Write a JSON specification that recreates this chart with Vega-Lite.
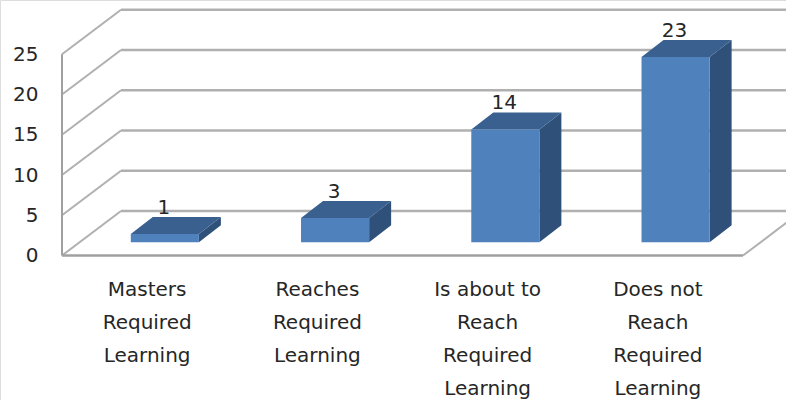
{
  "$schema": "https://vega.github.io/schema/vega-lite/v6.json",
  "width": 786,
  "height": 400,
  "padding": 0,
  "autosize": {"type": "none"},
  "background": "white",
  "datasets": {
    "levels": [{"level": 0}, {"level": 5}, {"level": 10}, {"level": 15}, {"level": 20}, {"level": 25}],
    "bars": [
      {"rank": 1, "category": "Masters\nRequired\nLearning", "value": 1},
      {"rank": 2, "category": "Reaches\nRequired\nLearning", "value": 3},
      {"rank": 3, "category": "Is about to\nReach\nRequired\nLearning", "value": 14},
      {"rank": 4, "category": "Does not\nReach\nRequired\nLearning", "value": 23}
    ]
  },
  "encoding": {
    "x": {"field": "px", "type": "quantitative", "stack": null, "axis": null,
          "scale": {"domain": [-0.3642, 4.2526], "nice": false, "zero": false}},
    "y": {"field": "py", "type": "quantitative", "stack": null,
          "scale": {"domain": [-17.95, 31.74], "nice": false, "zero": false},
          "axis": {"title": null, "values": [0, 5, 10, 15, 20, 25], "offset": -62, "ticks": false, "domain": false,
                   "grid": false, "labelPadding": 24, "labelFontSize": 20, "labelFont": "DejaVu Sans", "labelColor": "#262626"}}
  },
  "layer": [
    {
      "data": {"name": "levels"},
      "transform": [
        {"calculate": "0.3466", "as": "px"},
        {"calculate": "4.3466", "as": "px2"},
        {"calculate": "datum.level + 5.53", "as": "py"}
      ],
      "mark": {"type": "rule", "color": "#b0b0b0", "strokeWidth": 2.5},
      "encoding": {"x2": {"field": "px2"}}
    },
    {
      "data": {"name": "levels"},
      "transform": [
        {"calculate": "0", "as": "px"},
        {"calculate": "0.3466", "as": "px2"},
        {"calculate": "datum.level", "as": "py"},
        {"calculate": "datum.level + 5.53", "as": "py2"}
      ],
      "mark": {"type": "rule", "color": "#b0b0b0", "strokeWidth": 2},
      "encoding": {"x2": {"field": "px2"}, "y2": {"field": "py2"}}
    },
    {
      "data": {"name": "levels"},
      "transform": [
        {"filter": "datum.level === 25"},
        {"calculate": "0", "as": "px"},
        {"calculate": "0", "as": "py"},
        {"calculate": "datum.level", "as": "py2"}
      ],
      "mark": {"type": "rule", "color": "#a0a0a0", "strokeWidth": 2},
      "encoding": {"y2": {"field": "py2"}}
    },
    {
      "data": {"name": "levels"},
      "transform": [
        {"filter": "datum.level === 0"},
        {"calculate": "0", "as": "px"},
        {"calculate": "4", "as": "px2"},
        {"calculate": "0", "as": "py"}
      ],
      "mark": {"type": "rule", "color": "#a0a0a0", "strokeWidth": 2.5},
      "encoding": {"x2": {"field": "px2"}}
    },
    {
      "data": {"name": "levels"},
      "transform": [
        {"filter": "datum.level === 0"},
        {"calculate": "4", "as": "px"},
        {"calculate": "4.3466", "as": "px2"},
        {"calculate": "0", "as": "py"},
        {"calculate": "5.53", "as": "py2"}
      ],
      "mark": {"type": "rule", "color": "#b0b0b0", "strokeWidth": 2},
      "encoding": {"x2": {"field": "px2"}, "y2": {"field": "py2"}}
    },
    {
      "data": {"name": "bars"},
      "transform": [
        {"calculate": "[0, 1]", "as": "depth"},
        {"flatten": ["depth"]},
        {"calculate": "datum.rank - 0.196 + 0.1292 * datum.depth", "as": "px"},
        {"calculate": "1.66 + 2.11 * datum.depth + datum.value", "as": "py"},
        {"calculate": "1.66 + 2.11 * datum.depth", "as": "py2"}
      ],
      "mark": {"type": "area", "color": "#2f5078", "orient": "vertical", "opacity": 1},
      "encoding": {"y2": {"field": "py2"}, "detail": {"field": "rank"}}
    },
    {
      "data": {"name": "bars"},
      "transform": [
        {"calculate": "[0, 1]", "as": "depth"},
        {"flatten": ["depth"]},
        {"calculate": "datum.rank - 0.596 + 0.1292 * datum.depth", "as": "px"},
        {"calculate": "datum.rank - 0.196 + 0.1292 * datum.depth", "as": "px2"},
        {"calculate": "1.66 + 2.11 * datum.depth + datum.value", "as": "py"}
      ],
      "mark": {"type": "area", "color": "#3a6090", "orient": "horizontal", "opacity": 1},
      "encoding": {"x2": {"field": "px2"}, "detail": {"field": "rank"}}
    },
    {
      "data": {"name": "bars"},
      "transform": [
        {"calculate": "datum.rank - 0.596", "as": "px"},
        {"calculate": "datum.rank - 0.196", "as": "px2"},
        {"calculate": "1.66 + datum.value", "as": "py"},
        {"calculate": "1.66", "as": "py2"}
      ],
      "mark": {"type": "rect", "color": "#4f81bd"},
      "encoding": {"x2": {"field": "px2"}, "y2": {"field": "py2"}}
    },
    {
      "data": {"name": "bars"},
      "transform": [
        {"calculate": "datum.rank - 0.402", "as": "px"},
        {"calculate": "1.66 + datum.value", "as": "py"}
      ],
      "mark": {"type": "text", "dy": -26, "fontSize": 20, "font": "DejaVu Sans", "color": "#262626"},
      "encoding": {"text": {"field": "value", "type": "quantitative"}}
    },
    {
      "data": {"name": "bars"},
      "transform": [
        {"calculate": "datum.rank - 0.5", "as": "px"},
        {"calculate": "-3.05", "as": "py"}
      ],
      "mark": {"type": "text", "baseline": "top", "lineBreak": "\n", "lineHeight": 33, "fontSize": 20, "font": "DejaVu Sans", "color": "#262626"},
      "encoding": {"text": {"field": "category", "type": "nominal"}}
    }
  ]
}
